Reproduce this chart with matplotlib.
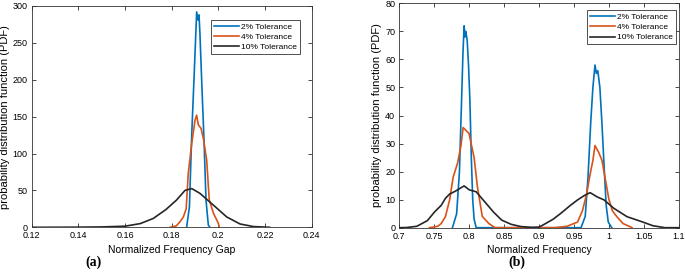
#!/usr/bin/env python3
'''
Frequency gap / normalized frequency PDFs for three tolerances
'''
import matplotlib
matplotlib.use("Agg")
import matplotlib.pyplot as plt

labels = ["2% Tolerance", "4% Tolerance", "10% Tolerance"]
colors = ["#0072BD", "#D95319", "#262626"]

# panel (a): normalized frequency gap
a_blue_x = [0.1864, 0.1876, 0.1886, 0.1896, 0.1907, 0.1913, 0.1917, 0.1921,
            0.1929, 0.1939, 0.1947, 0.1957, 0.1964]
a_blue_y = [0, 28, 127, 204, 292, 281, 288, 263, 195, 114, 37, 3, 0]
a_orange_x = [0.1793, 0.182, 0.1836, 0.1850, 0.1862, 0.1871, 0.1886, 0.19,
              0.1907, 0.1914, 0.1926, 0.1936, 0.195, 0.1961, 0.1979, 0.2,
              0.2004]
a_orange_y = [0, 2, 7.7, 14, 25, 73, 114, 145, 152, 139, 134, 120, 91, 37, 19,
              5.4, 0]
a_black_x = [0.12, 0.14, 0.15, 0.16, 0.1665, 0.1721, 0.1775, 0.1821, 0.1857,
             0.1886, 0.1921, 0.1979, 0.2036, 0.2093, 0.215, 0.222]
a_black_y = [0, 0.2, 0.5, 1.5, 5, 12, 24, 37, 50, 52.5, 46, 30, 14, 4.5, 1, 0]

# panel (b): normalized frequency, two modes
b_blue_x = [0.776, 0.782, 0.786, 0.789, 0.791, 0.7927, 0.794, 0.795, 0.797,
            0.799, 0.801, 0.803, 0.805, 0.807, 0.810,
            0.960, 0.966, 0.970, 0.974, 0.977, 0.980, 0.982, 0.984, 0.987,
            0.990, 0.993, 0.996, 0.999, 1.004]
b_blue_y = [0, 5, 20, 45, 62, 72, 68, 70, 67, 58, 45, 25, 10, 3, 0,
            0, 4, 18, 38, 50, 58, 55, 56, 50, 37, 22, 8, 2, 0]
b_orange_x = [0.743, 0.755, 0.760, 0.766, 0.772, 0.777, 0.7833, 0.788, 0.7913,
              0.7997, 0.807, 0.8117, 0.8187, 0.828, 0.837,
              0.922, 0.940, 0.955, 0.962, 0.968, 0.973, 0.977, 0.980, 0.985,
              0.990, 0.995, 1.000, 1.005, 1.011, 1.020, 1.033]
b_orange_y = [0, 0.5, 1.5, 4, 10, 18, 23, 29, 35.7, 33.6, 25, 14.6, 4, 1.5, 0,
              0, 0.5, 2, 6, 12, 19, 24, 29.3, 27, 24, 17, 10, 6, 4, 1.5, 0]
b_black_x = [0.700, 0.710, 0.725, 0.740, 0.750, 0.760, 0.766, 0.772, 0.780,
             0.790, 0.7927, 0.800, 0.810, 0.824, 0.835, 0.8465, 0.860, 0.874,
             0.890, 0.900, 0.908, 0.920, 0.931, 0.945, 0.955, 0.965, 0.973,
             0.983, 0.993, 1.007, 1.026, 1.044, 1.063, 1.080, 1.100]
b_black_y = [0, 0.05, 0.5, 2.5, 5.5, 8, 10.5, 12, 13, 14.5, 14.9, 13.5, 12.8,
             8.7, 5.5, 2.7, 1.2, 0.4, 0.1,
             0.2, 1.3, 3, 5.1, 8, 9.9, 11.5, 12.5, 11, 9.9, 6.9, 3.9, 2.4,
             0.7, 0, 0]

plt.rcParams['font.family'] = ['Liberation Sans', 'DejaVu Sans']

fig = plt.figure(figsize=(6.85, 2.79), dpi=100)
ax1 = fig.add_axes([0.0463, 0.1853, 0.4087, 0.7932])
ax2 = fig.add_axes([0.583, 0.1839, 0.408, 0.8041])

panels = [
    (ax1, [(a_blue_x, a_blue_y), (a_orange_x, a_orange_y),
           (a_black_x, a_black_y)], (0.958, 0.937)),
    (ax2, [(b_blue_x, b_blue_y), (b_orange_x, b_orange_y),
           (b_black_x, b_black_y)], (0.990, 0.970)),
]
for ax, curves, anchor in panels:
    for (x, y), c, lab in zip(curves, colors, labels):
        ax.plot(x, y, color=c, lw=1.2, label=lab)
    ax.tick_params(direction='in', top=True, right=True, labelsize=6.5,
                   length=3, width=0.5, pad=3)
    for s in ax.spines.values():
        s.set_linewidth(0.6)
        s.set_color('#333333')
    ax.set_ylabel("probability distribution function (PDF)", fontsize=8,
                  labelpad=2)
    leg = ax.legend(loc='upper right', bbox_to_anchor=anchor, fontsize=6,
                    handlelength=3.0, fancybox=False, edgecolor='#333333',
                    framealpha=1, borderpad=0.35, labelspacing=0.3,
                    handletextpad=0.3, borderaxespad=0)
    leg.get_frame().set_linewidth(0.6)

ax1.set_xlim(0.12, 0.24)
ax1.set_ylim(0, 300)
ax1.set_xticks([0.12, 0.14, 0.16, 0.18, 0.2, 0.22, 0.24])
ax1.set_xticklabels(["0.12", "0.14", "0.16", "0.18", "0.2", "0.22", "0.24"])
ax1.set_xlabel("Normalized Frequency Gap", fontsize=7.5, labelpad=3)

ax2.set_xlim(0.7, 1.1)
ax2.set_ylim(0, 80)
ax2.set_xticks([0.7, 0.75, 0.8, 0.85, 0.9, 0.95, 1.0, 1.05, 1.1])
ax2.set_xticklabels(["0.7", "0.75", "0.8", "0.85", "0.9", "0.95", "1",
                     "1.05", "1.1"])
ax2.set_xlabel("Normalized Frequency", fontsize=7.5, labelpad=3)

fig.text(93 / 685, 1 - 262 / 279, "(a)", fontsize=10, fontweight='bold',
         family='Liberation Serif', ha='center', va='center')
fig.text(517 / 685, 1 - 262 / 279, "(b)", fontsize=10, fontweight='bold',
         family='Liberation Serif', ha='center', va='center')

fig.savefig("out.png", dpi=100)
